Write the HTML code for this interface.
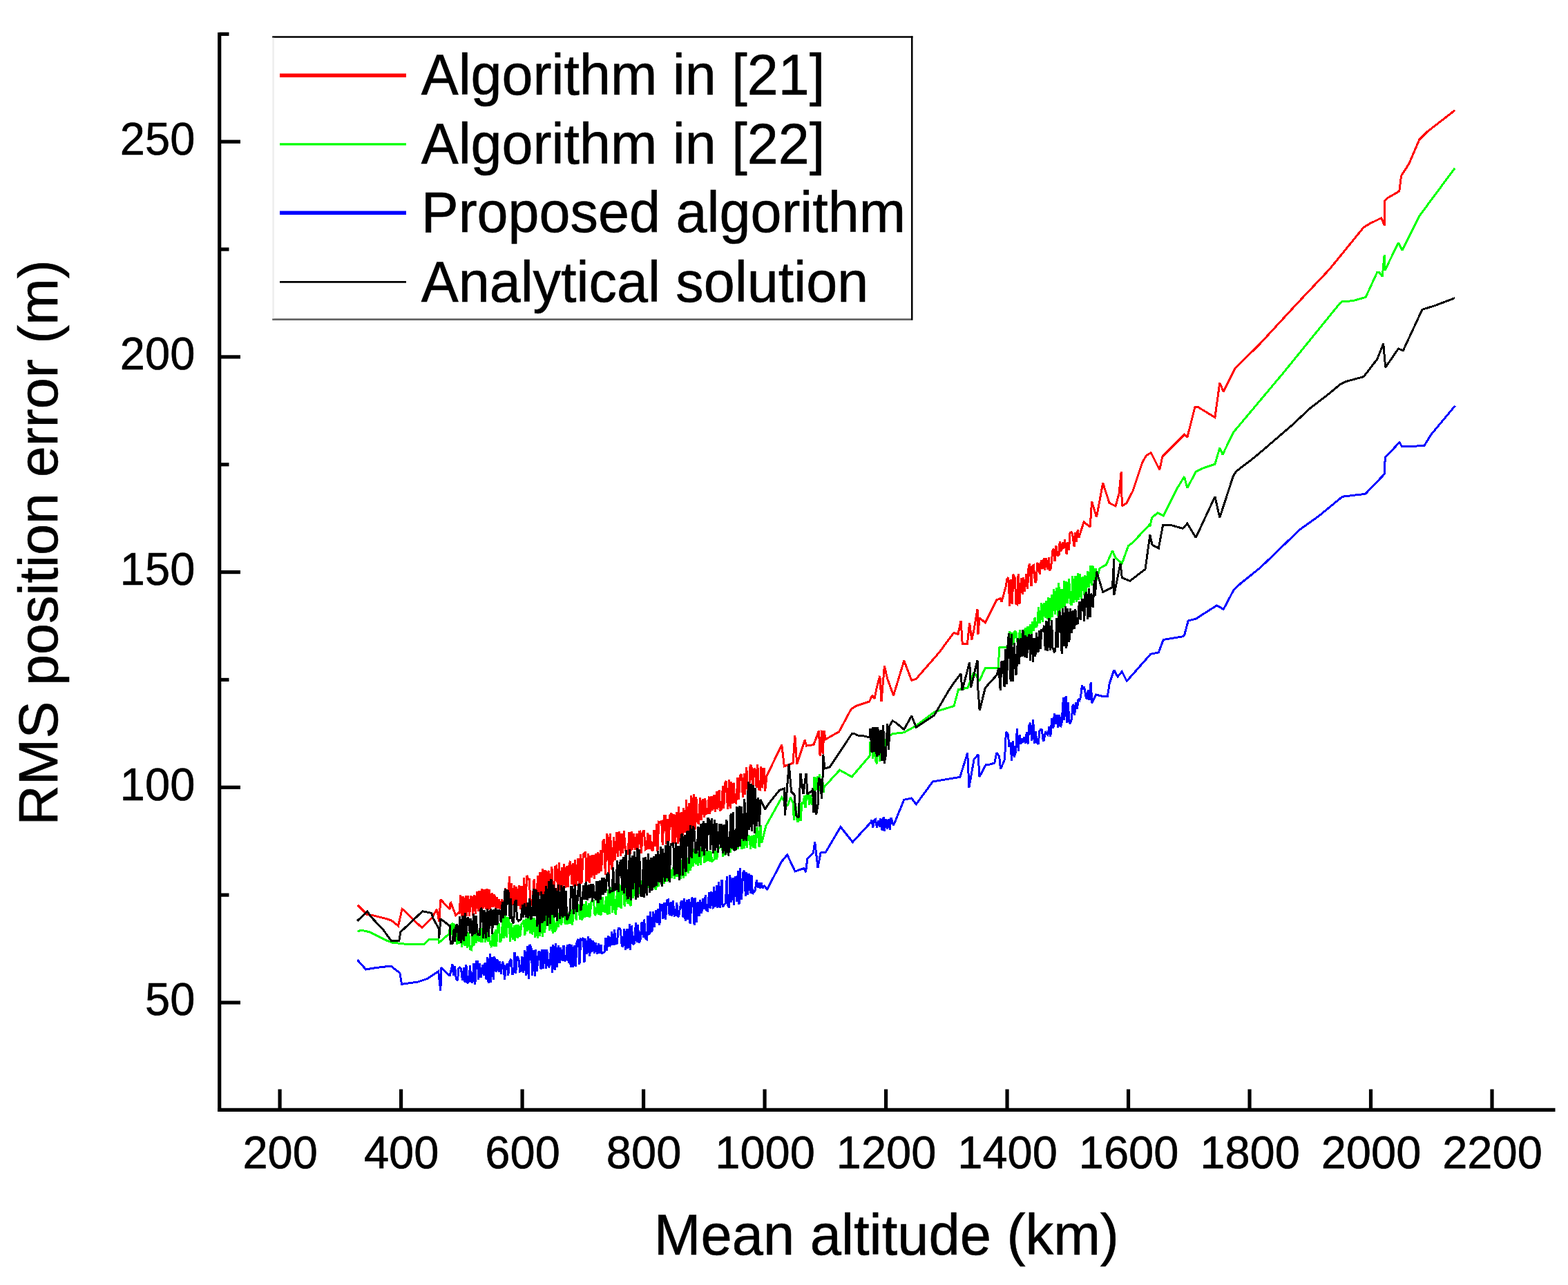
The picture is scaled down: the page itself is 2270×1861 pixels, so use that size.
<!DOCTYPE html>
<html><head><meta charset="utf-8"><title>RMS position error vs Mean altitude</title>
<style>html,body{margin:0;padding:0;background:#fff;}body{width:2270px;height:1861px;overflow:hidden;}svg{display:block;}</style>
</head><body>
<svg xmlns="http://www.w3.org/2000/svg" width="2270" height="1861" viewBox="0 0 2270 1861"><rect width="2270" height="1861" fill="#fff"/><style>text{fill:#000;stroke:#000;stroke-width:0.6px;}</style><g shape-rendering="crispEdges"><polyline points="517.5,1310.6 531.7,1324.6 537.2,1325.1 550.4,1328.4 559.1,1330.6 566.8,1333.1 576.6,1341.0 582.1,1316.4 587.6,1320.8 598.5,1332.2 611.1,1343.7 624.8,1330.1 632.5,1316.9 635.7,1334.4 637.9,1302.7 651.1,1316.9 652.2,1306.0 659.8,1325.7 664.2,1321.3 665.0,1323.4 666.8,1295.7 668.6,1326.7 670.0,1297.9 672.1,1329.3 674.2,1297.1 675.7,1326.5 677.4,1297.2 679.7,1327.1 681.2,1298.8 683.3,1299.0 684.6,1325.9 686.6,1296.6 688.4,1323.5 690.4,1290.8 692.3,1320.3 694.0,1289.9 695.6,1324.9 697.9,1287.0 699.6,1316.0 701.0,1288.0 703.3,1317.1 705.0,1286.9 706.1,1318.2 708.3,1288.5 709.7,1317.1 712.1,1293.6 713.9,1313.8 715.9,1295.6 717.7,1315.2 719.2,1299.1 721.1,1316.3 722.6,1301.8 724.7,1316.7 726.8,1302.4 728.6,1314.2 729.6,1313.6 731.7,1286.0 733.9,1308.2 735.2,1308.5 737.6,1268.9 738.9,1306.0 740.5,1279.2 742.9,1310.9 744.7,1282.1 746.2,1310.7 747.8,1284.2 750.3,1312.1 751.9,1281.9 753.6,1317.4 755.0,1283.3 757.0,1316.9 758.6,1271.3 760.7,1315.1 762.7,1267.9 764.7,1273.4 766.4,1273.7 767.9,1311.5 769.7,1308.5 771.3,1301.0 773.1,1273.6 775.1,1303.0 777.3,1299.1 778.4,1268.2 780.4,1296.8 782.0,1262.8 784.4,1303.6 785.9,1257.6 788.0,1296.6 790.0,1260.5 791.6,1296.0 792.9,1265.1 794.8,1261.1 797.0,1298.4 798.9,1255.3 800.9,1297.6 802.6,1289.7 803.7,1255.2 805.8,1254.0 807.7,1291.7 809.4,1249.0 810.9,1290.4 813.4,1256.3 814.8,1287.3 816.4,1250.8 818.9,1285.7 820.1,1254.1 822.0,1285.0 824.1,1251.4 825.7,1246.9 827.9,1280.6 829.8,1250.2 830.9,1283.8 832.6,1244.7 834.4,1282.5 836.5,1242.8 838.3,1282.5 840.3,1236.6 841.9,1279.5 844.3,1237.7 846.0,1235.7 847.8,1233.3 848.9,1277.6 851.5,1235.7 853.1,1279.1 854.8,1238.7 856.9,1271.4 858.0,1238.1 860.5,1272.6 862.1,1236.5 863.8,1267.3 865.3,1234.0 867.0,1264.8 869.3,1231.5 870.5,1262.2 872.9,1219.0 874.6,1215.3 876.3,1266.8 878.6,1207.5 880.3,1212.9 881.5,1267.9 883.6,1207.0 885.7,1259.4 886.8,1252.6 888.7,1211.9 890.4,1246.0 893.0,1204.9 894.5,1241.2 896.3,1204.5 898.5,1240.4 899.7,1207.5 901.7,1235.8 903.2,1202.9 905.5,1231.4 907.0,1234.5 909.0,1237.8 911.0,1204.6 912.8,1236.9 914.3,1204.4 915.8,1230.8 917.5,1206.9 920.0,1231.3 922.0,1207.3 923.5,1229.4 925.4,1204.2 926.9,1204.0 928.4,1235.7 930.3,1205.6 932.3,1202.2 934.4,1230.4 936.1,1229.3 937.8,1205.9 940.0,1230.3 941.3,1209.3 943.0,1229.9 945.3,1232.2 947.0,1202.0 948.8,1226.2 950.8,1192.6 951.9,1233.3 953.8,1190.5 956.2,1191.4 957.7,1188.2 959.2,1223.9 961.3,1181.3 963.2,1181.7 964.7,1222.9 966.9,1186.5 968.3,1218.0 970.0,1180.6 972.2,1177.7 974.0,1222.0 975.5,1179.5 977.3,1222.3 979.2,1175.9 981.5,1222.3 982.6,1168.1 984.9,1219.3 986.4,1175.6 988.0,1209.9 989.8,1169.8 992.0,1206.4 993.5,1158.5 995.5,1204.0 997.2,1163.5 999.0,1208.3 1000.9,1152.0 1002.4,1200.0 1004.4,1149.8 1006.0,1201.7 1007.9,1154.4 1009.6,1190.1 1011.8,1193.4 1013.4,1155.4 1015.5,1188.2 1017.1,1157.5 1019.4,1183.9 1020.8,1156.1 1022.7,1178.6 1024.4,1177.5 1026.4,1153.6 1027.8,1178.8 1030.0,1153.4 1031.8,1174.1 1033.2,1150.8 1035.4,1176.2 1037.3,1146.4 1038.8,1172.4 1041.1,1144.4 1042.3,1174.5 1044.2,1172.3 1046.5,1138.0 1047.6,1171.4 1049.9,1133.9 1051.2,1131.0 1053.5,1171.5 1055.6,1129.1 1057.1,1170.5 1058.7,1132.0 1060.6,1164.1 1062.0,1133.6 1063.9,1161.8 1065.8,1163.0 1068.0,1125.7 1069.4,1157.9 1071.5,1123.6 1073.5,1121.1 1075.4,1154.8 1077.3,1120.5 1078.6,1150.8 1080.8,1111.4 1082.4,1149.7 1084.3,1150.2 1086.1,1108.8 1087.9,1109.0 1089.9,1147.0 1091.0,1114.0 1093.0,1113.6 1095.2,1141.1 1096.8,1107.2 1098.3,1143.1 1100.4,1143.7 1101.9,1110.3 1103.6,1141.4 1106.0,1112.0 1107.6,1145.8 1110.0,1123.6 1131.8,1078.7 1135.3,1109.8 1148.0,1105.2 1150.8,1065.0 1153.7,1106.4 1165.2,1071.8 1167.5,1080.0 1177.9,1078.7 1185.5,1058.3 1187.1,1095.1 1189.7,1057.6 1191.1,1092.2 1193.0,1058.0 1195.2,1070.7 1214.7,1059.7 1232.2,1027.0 1238.8,1022.5 1258.5,1016.0 1262.8,1007.2 1266.0,1012.0 1269.4,995.5 1273.8,978.8 1276.0,1016.0 1280.4,964.6 1284.7,983.0 1293.5,1007.2 1308.8,956.9 1319.7,985.3 1326.3,983.2 1360.0,944.5 1380.7,916.5 1387.0,918.5 1391.1,898.8 1393.2,932.0 1400.5,932.0 1403.6,902.0 1406.7,926.8 1410.0,912.0 1415.0,882.2 1416.0,918.5 1418.0,894.7 1426.4,902.0 1443.0,868.8 1448.2,866.7 1450.0,872.0 1456.0,850.0 1458.0,838.5 1459.8,836.3 1461.9,877.5 1463.1,838.8 1465.4,875.1 1466.9,831.7 1469.3,836.5 1470.9,874.3 1472.5,875.3 1474.1,831.2 1476.0,874.6 1478.5,836.9 1480.3,861.2 1481.4,836.3 1483.4,857.1 1485.8,830.8 1487.6,853.2 1489.1,821.1 1490.8,816.7 1493.0,849.1 1494.6,819.6 1496.4,818.4 1498.5,843.8 1499.9,842.1 1501.9,816.2 1503.2,816.8 1505.3,831.7 1507.3,811.5 1509.4,824.3 1511.2,808.4 1512.6,825.5 1514.2,808.3 1516.4,824.5 1518.5,806.8 1519.6,826.5 1521.6,822.0 1523.8,797.3 1525.2,794.9 1527.0,812.8 1528.9,790.6 1531.0,805.1 1533.1,803.2 1534.2,784.0 1536.8,798.3 1538.2,784.9 1539.9,794.9 1541.5,781.5 1544.1,803.1 1545.3,785.4 1547.5,796.4 1549.0,771.7 1550.9,770.7 1552.6,773.4 1555.1,791.8 1556.6,770.7 1558.0,785.1 1560.2,767.2 1562.0,778.4 1569.0,756.0 1578.2,763.0 1580.6,726.0 1587.5,749.0 1596.7,699.6 1606.0,728.4 1615.0,733.0 1620.0,715.0 1623.2,683.5 1624.3,733.0 1631.0,728.4 1640.0,711.0 1653.8,669.5 1659.4,659.8 1666.3,655.6 1678.7,680.5 1682.9,661.2 1714.6,629.4 1718.8,633.5 1729.9,589.3 1734.0,589.3 1758.9,604.5 1765.8,554.7 1771.3,567.2 1787.0,535.2 1790.0,531.4 1822.9,499.2 1875.3,442.3 1924.8,389.9 1974.2,329.2 1983.0,323.9 1999.7,315.7 2004.5,326.6 2005.0,290.7 2009.2,286.5 2025.8,276.9 2028.6,254.7 2040.0,236.8 2054.8,202.2 2065.9,191.1 2071.1,187.0 2106.3,159.7" fill="none" stroke="#ff0000" stroke-width="3" stroke-linejoin="miter" stroke-miterlimit="2"/></g><g shape-rendering="crispEdges"><polyline points="517.5,1349.2 523.0,1347.0 535.0,1349.8 546.0,1355.2 559.1,1361.8 567.9,1365.1 592.0,1367.8 613.8,1367.8 621.5,1360.2 634.6,1360.2 635.7,1365.1 650.0,1352.5 652.0,1339.7 654.2,1338.3 655.6,1364.5 657.0,1338.9 658.9,1340.0 661.4,1368.1 663.1,1343.3 664.5,1366.7 666.6,1339.8 668.4,1372.2 669.8,1344.9 671.5,1366.9 673.4,1369.7 675.5,1346.5 676.9,1372.7 678.7,1350.3 680.4,1374.8 682.8,1375.8 684.6,1345.8 685.9,1370.2 688.2,1350.4 689.7,1365.7 691.6,1347.6 693.5,1362.4 695.5,1363.1 697.2,1344.4 698.4,1365.1 700.4,1345.7 702.6,1364.7 704.2,1348.7 706.4,1364.3 707.5,1351.9 709.8,1367.6 711.9,1372.0 713.2,1351.3 715.4,1371.2 717.2,1346.4 718.6,1371.0 720.6,1338.1 722.1,1338.5 723.9,1364.4 725.9,1361.6 727.9,1327.1 729.5,1359.1 731.3,1325.3 733.1,1357.9 735.0,1328.4 736.8,1331.0 738.6,1363.5 740.5,1337.2 742.4,1361.1 744.3,1340.4 745.6,1362.7 747.4,1339.6 749.6,1359.3 750.8,1339.1 752.8,1357.3 755.1,1337.8 756.8,1336.9 758.2,1332.3 759.9,1354.5 762.0,1329.8 763.5,1349.3 765.7,1325.9 767.3,1351.6 769.1,1329.1 770.7,1353.4 773.0,1329.2 774.7,1357.7 776.3,1332.5 778.2,1358.6 780.0,1328.3 781.5,1355.8 783.2,1329.2 785.4,1356.4 787.6,1326.5 788.6,1351.2 790.5,1326.8 792.6,1324.9 794.2,1323.2 795.8,1348.3 798.4,1321.1 800.2,1351.6 801.2,1318.4 803.0,1349.6 805.4,1345.0 807.0,1322.2 808.7,1342.7 810.2,1320.6 812.7,1339.7 814.6,1322.7 816.3,1322.8 818.2,1338.7 819.2,1321.3 821.0,1338.6 823.0,1322.0 825.0,1338.3 827.2,1317.0 828.6,1340.4 830.5,1315.6 832.2,1313.1 834.2,1332.9 835.5,1312.9 837.8,1309.9 839.5,1332.0 841.2,1308.5 842.8,1332.7 845.1,1309.2 846.5,1329.2 848.5,1304.8 850.0,1328.3 852.4,1308.3 853.9,1328.5 856.1,1305.5 857.5,1305.9 859.4,1304.9 861.2,1325.8 863.3,1322.6 864.8,1304.3 866.4,1324.6 868.0,1301.6 870.0,1325.7 872.2,1299.4 873.8,1320.0 875.8,1320.6 877.5,1298.2 879.1,1324.7 880.8,1288.0 882.4,1323.7 884.1,1285.4 886.7,1321.6 887.7,1281.6 890.1,1319.7 891.7,1324.8 893.9,1279.6 895.1,1314.3 896.9,1280.0 899.1,1316.1 900.7,1280.1 902.8,1279.3 904.1,1313.1 905.9,1277.8 908.3,1309.1 909.4,1275.3 911.4,1308.6 913.5,1311.9 915.3,1275.2 916.7,1301.4 918.4,1274.7 920.3,1301.9 921.9,1298.0 924.2,1278.0 926.4,1294.9 928.1,1275.5 929.2,1294.5 931.0,1271.5 933.4,1293.2 935.3,1264.2 936.4,1297.0 938.3,1263.9 940.6,1288.7 942.3,1264.7 944.1,1285.6 946.2,1267.1 947.2,1284.9 949.8,1288.2 951.3,1261.3 953.2,1284.4 954.4,1259.8 956.8,1259.5 958.1,1281.5 960.4,1261.0 961.6,1279.7 963.5,1256.9 965.5,1277.2 967.2,1257.9 969.3,1276.1 971.1,1259.1 972.7,1271.6 974.6,1255.8 976.7,1273.2 978.4,1256.1 980.4,1269.8 982.0,1253.0 983.9,1270.8 985.5,1271.1 987.5,1245.5 989.2,1272.2 990.9,1241.9 992.4,1268.8 994.1,1241.9 996.2,1264.5 997.8,1237.1 999.6,1261.2 1002.1,1235.8 1003.2,1254.9 1005.2,1228.7 1007.2,1252.2 1008.4,1227.0 1010.5,1253.4 1012.3,1229.7 1014.3,1253.2 1016.0,1226.6 1018.1,1231.2 1020.0,1249.6 1021.5,1231.0 1022.9,1247.4 1025.4,1232.1 1027.2,1248.1 1028.8,1232.5 1030.8,1247.3 1032.2,1246.7 1034.1,1244.0 1035.5,1230.8 1037.7,1244.7 1039.3,1229.7 1041.4,1228.3 1042.9,1226.8 1045.2,1222.9 1046.8,1240.9 1048.3,1223.8 1049.9,1238.4 1052.5,1219.5 1053.7,1235.9 1056.1,1218.4 1057.3,1235.3 1059.8,1214.7 1061.5,1231.2 1062.9,1215.9 1064.9,1228.3 1066.4,1214.1 1068.6,1229.9 1070.6,1211.9 1071.8,1208.4 1074.0,1229.8 1075.9,1210.2 1077.0,1229.2 1079.4,1208.4 1081.3,1228.3 1082.6,1209.7 1085.0,1212.0 1086.5,1230.2 1088.1,1209.7 1090.3,1228.3 1091.4,1209.0 1093.4,1229.1 1095.6,1199.1 1096.7,1199.0 1099.1,1226.9 1101.1,1195.5 1102.6,1221.2 1108.8,1196.2 1131.8,1154.7 1139.9,1167.4 1144.5,1154.7 1148.0,1163.1 1149.4,1188.1 1151.7,1165.4 1153.9,1187.2 1155.0,1190.9 1157.5,1163.4 1159.0,1189.1 1161.1,1160.9 1162.5,1165.1 1164.7,1152.0 1166.0,1169.9 1168.1,1150.3 1170.3,1150.3 1171.7,1165.9 1173.5,1150.9 1175.2,1165.4 1177.6,1154.6 1179.0,1124.7 1180.9,1145.3 1183.2,1124.2 1184.8,1149.4 1186.5,1121.4 1188.5,1149.2 1190.4,1124.0 1192.0,1147.7 1192.7,1140.3 1215.6,1115.2 1233.2,1125.0 1259.4,1094.4 1260.0,1074.1 1262.0,1077.1 1263.7,1098.4 1265.6,1072.8 1267.4,1101.9 1269.6,1106.3 1271.1,1068.2 1273.6,1103.2 1275.0,1066.6 1277.0,1102.4 1278.9,1070.8 1280.9,1102.1 1283.2,1067.8 1285.0,1067.9 1292.2,1062.7 1308.8,1060.8 1326.3,1051.0 1352.6,1031.3 1381.0,1022.5 1387.6,998.5 1400.7,996.3 1409.8,973.5 1418.0,986.0 1426.4,967.3 1445.0,967.3 1447.0,937.2 1459.6,937.2 1462.0,914.6 1463.6,931.5 1466.0,916.3 1467.1,934.3 1469.1,913.5 1470.8,915.0 1472.9,930.2 1475.0,928.0 1476.4,912.1 1478.5,927.6 1480.6,913.4 1481.9,925.4 1484.2,909.6 1485.5,925.3 1487.6,906.9 1488.9,925.6 1491.3,904.4 1493.3,920.1 1494.8,899.7 1496.8,913.6 1498.1,893.9 1500.2,909.0 1502.0,903.3 1503.4,879.6 1505.6,903.3 1507.8,873.2 1509.4,901.3 1511.1,873.3 1513.2,895.3 1514.9,869.7 1516.2,896.7 1518.0,865.5 1520.1,899.2 1522.3,861.4 1523.5,893.7 1525.9,853.0 1527.4,890.2 1529.5,850.6 1531.4,891.8 1532.8,844.4 1534.5,890.5 1536.2,852.6 1538.4,887.0 1540.6,841.5 1541.7,879.2 1544.0,842.3 1545.6,873.8 1547.7,837.7 1549.3,873.9 1551.3,876.7 1552.8,834.1 1554.8,872.8 1556.8,834.5 1558.3,872.3 1560.2,830.5 1561.8,869.2 1563.8,830.6 1565.4,867.7 1567.1,835.4 1569.6,861.7 1570.8,832.7 1572.6,858.2 1574.4,827.5 1576.6,851.3 1578.6,819.0 1580.7,847.8 1582.0,819.5 1584.0,840.1 1586.0,823.4 1587.5,840.7 1592.0,823.0 1601.3,818.2 1610.5,797.5 1615.0,808.0 1624.3,816.0 1633.5,790.6 1640.0,785.6 1663.5,760.6 1664.9,762.1 1667.6,749.7 1676.0,742.7 1684.2,746.9 1703.6,708.2 1714.6,690.2 1718.8,706.8 1731.2,683.3 1742.3,677.8 1758.9,672.2 1765.8,648.7 1770.0,658.4 1785.5,626.2 1857.9,540.0 1939.7,439.3 1942.7,437.0 1959.2,435.6 1977.2,430.3 1993.7,394.4 1996.7,394.4 2001.2,400.4 2004.2,368.9 2005.0,391.6 2024.4,351.5 2030.0,362.6 2054.8,312.8 2106.0,243.7" fill="none" stroke="#00ff00" stroke-width="3" stroke-linejoin="miter" stroke-miterlimit="2"/></g><g shape-rendering="crispEdges"><polyline points="517.5,1390.3 529.6,1404.0 542.7,1401.8 565.7,1399.0 578.8,1408.9 581.6,1425.3 605.1,1422.0 618.2,1417.6 634.6,1406.7 637.9,1435.1 638.5,1401.2 651.1,1413.3 655.0,1396.7 656.5,1413.2 658.6,1399.3 660.2,1417.2 662.5,1420.2 663.9,1402.8 665.9,1401.1 667.4,1402.8 669.5,1420.0 671.5,1401.1 673.1,1422.7 674.9,1397.0 676.8,1424.0 678.9,1421.9 680.5,1397.9 681.9,1421.1 683.9,1423.5 686.0,1394.7 687.8,1426.3 689.5,1392.7 691.4,1392.6 692.8,1418.8 694.3,1395.5 696.2,1415.6 698.5,1396.8 700.2,1413.0 702.1,1394.1 704.1,1418.5 705.4,1386.3 707.1,1423.9 709.4,1380.9 710.6,1422.8 712.6,1386.4 714.2,1418.9 715.9,1385.5 718.1,1407.9 719.9,1389.5 722.2,1407.8 723.5,1392.0 725.2,1410.4 727.4,1392.9 728.9,1395.6 730.5,1418.4 732.7,1399.3 734.5,1395.5 735.7,1413.3 737.7,1393.5 739.9,1388.8 742.0,1412.0 743.8,1406.7 745.0,1378.9 746.6,1410.3 748.5,1385.3 750.8,1388.0 752.6,1407.1 754.3,1406.2 755.9,1385.0 757.8,1408.8 759.8,1376.2 761.3,1412.7 763.4,1370.3 765.3,1417.9 766.6,1367.9 769.0,1372.5 770.8,1412.9 772.1,1375.9 774.5,1413.5 775.5,1375.4 777.4,1407.3 779.6,1378.9 781.0,1377.9 783.1,1404.3 785.0,1375.1 786.4,1402.5 788.8,1375.2 790.7,1403.2 791.7,1375.1 794.2,1400.9 795.9,1398.9 797.6,1371.0 799.6,1409.3 800.9,1367.8 803.1,1404.9 804.7,1366.1 806.7,1400.5 808.4,1369.0 810.6,1394.5 811.6,1372.2 814.1,1392.2 816.0,1369.1 817.4,1392.1 819.5,1390.0 821.2,1368.3 823.2,1394.5 824.3,1367.4 826.2,1400.5 827.8,1368.2 829.9,1401.0 832.0,1369.0 833.4,1400.1 835.1,1363.3 837.6,1360.1 838.9,1397.1 840.8,1360.3 842.5,1361.4 844.4,1358.1 846.0,1393.6 847.6,1359.1 849.9,1381.4 851.4,1355.9 853.9,1384.7 854.8,1359.3 857.0,1378.4 858.9,1362.1 860.4,1381.3 862.2,1364.7 864.4,1382.3 866.3,1366.3 868.1,1381.2 870.0,1368.4 871.2,1381.3 873.6,1379.4 875.2,1378.2 877.0,1358.4 878.4,1377.1 880.9,1355.2 882.2,1370.8 884.1,1368.4 885.7,1349.3 888.0,1369.0 889.6,1346.3 891.4,1366.7 893.3,1366.0 895.1,1344.7 897.1,1344.7 898.3,1347.0 900.2,1369.0 901.9,1371.3 903.8,1345.0 905.4,1375.8 907.2,1345.1 909.0,1373.6 911.5,1338.4 912.5,1376.2 914.4,1340.6 916.4,1367.8 918.1,1366.6 920.6,1336.3 922.1,1364.5 923.4,1338.8 925.3,1365.5 927.0,1361.6 929.1,1335.6 931.5,1358.1 932.5,1331.6 935.0,1359.9 936.8,1360.7 938.0,1326.2 940.0,1353.7 941.4,1320.4 943.9,1350.4 945.5,1320.1 947.5,1342.6 949.4,1318.1 951.3,1337.1 952.4,1316.1 954.9,1340.2 955.9,1310.0 958.3,1310.5 959.9,1331.2 961.7,1307.1 963.6,1331.7 965.2,1304.2 967.2,1303.0 969.2,1326.2 971.1,1306.4 972.5,1327.2 974.4,1304.1 976.1,1326.3 978.3,1325.6 979.7,1306.7 981.5,1328.1 982.9,1325.6 985.6,1307.8 987.0,1304.1 989.1,1329.3 990.4,1301.1 992.2,1334.4 994.2,1303.0 995.8,1332.2 997.4,1302.5 999.1,1338.2 1001.4,1299.9 1003.5,1301.7 1005.1,1339.9 1006.7,1300.2 1008.4,1335.5 1010.5,1305.8 1012.1,1327.0 1013.7,1302.7 1015.8,1322.4 1017.7,1301.1 1019.8,1317.3 1021.2,1296.1 1022.6,1318.2 1024.7,1319.3 1026.5,1292.0 1028.8,1316.2 1029.9,1290.7 1032.4,1316.4 1033.5,1284.1 1036.0,1313.4 1037.9,1282.0 1039.0,1314.9 1040.7,1277.4 1042.7,1314.7 1045.0,1273.7 1046.1,1313.8 1048.0,1311.0 1050.4,1307.5 1052.3,1269.2 1053.4,1309.7 1055.4,1314.7 1056.9,1267.4 1058.8,1306.6 1061.1,1271.2 1062.5,1311.0 1064.3,1268.8 1066.5,1305.8 1068.3,1261.2 1070.0,1309.6 1071.3,1257.0 1073.5,1303.4 1075.7,1263.8 1077.4,1260.9 1079.4,1298.3 1080.9,1262.6 1082.6,1295.9 1084.7,1265.4 1086.5,1294.2 1088.0,1267.5 1089.4,1294.6 1091.4,1292.3 1093.4,1289.0 1095.4,1274.4 1097.1,1285.9 1098.8,1278.6 1100.8,1287.1 1102.0,1278.0 1104.4,1286.8 1106.0,1282.2 1110.6,1288.0 1131.6,1247.7 1139.7,1238.0 1151.0,1262.0 1164.0,1257.4 1166.6,1263.2 1168.8,1243.5 1177.5,1234.8 1179.7,1219.5 1184.0,1256.7 1188.0,1235.0 1195.0,1234.8 1216.9,1197.6 1234.4,1219.5 1260.7,1191.0 1262.0,1187.7 1263.7,1198.7 1265.9,1187.4 1267.5,1186.6 1269.5,1198.4 1271.6,1187.9 1273.3,1197.7 1274.8,1184.9 1277.2,1203.3 1279.1,1183.1 1280.3,1203.4 1282.9,1186.2 1284.8,1201.3 1286.5,1185.7 1288.3,1201.4 1290.0,1184.5 1293.5,1195.4 1308.8,1158.2 1319.7,1156.0 1326.3,1164.8 1350.4,1132.0 1389.8,1125.4 1400.7,1090.4 1402.9,1140.7 1410.0,1100.0 1416.0,1092.6 1418.0,1125.0 1427.0,1107.9 1430.0,1107.9 1439.8,1105.0 1442.7,1090.3 1446.6,1095.2 1448.6,1113.8 1454.5,1100.0 1456.4,1060.0 1459.4,1063.7 1461.0,1082.0 1463.1,1075.2 1464.5,1102.1 1466.5,1073.1 1468.2,1096.8 1470.5,1089.4 1472.4,1055.4 1474.3,1087.7 1476.1,1064.1 1477.9,1077.4 1479.7,1069.5 1480.9,1075.5 1482.8,1067.1 1484.5,1076.9 1486.4,1059.7 1488.2,1077.4 1490.0,1050.1 1491.8,1047.0 1493.6,1072.7 1495.7,1042.4 1497.3,1076.8 1499.5,1059.5 1500.8,1075.6 1503.3,1077.5 1504.8,1058.9 1506.1,1056.8 1508.1,1056.4 1510.5,1074.0 1511.6,1070.4 1513.6,1059.0 1515.3,1063.0 1517.0,1064.3 1518.9,1051.9 1520.8,1066.7 1522.7,1039.8 1524.9,1054.7 1526.4,1033.1 1528.6,1048.4 1530.1,1034.8 1531.8,1054.0 1533.7,1034.9 1535.5,1053.2 1537.0,1046.9 1539.5,1010.0 1540.7,1043.1 1543.1,1008.1 1545.0,1046.8 1546.0,1017.2 1548.4,1048.0 1550.2,1045.4 1551.4,1040.9 1553.2,1019.7 1555.6,1035.7 1557.4,1017.2 1559.5,1026.7 1561.1,1012.0 1562.9,1013.9 1564.5,1009.5 1566.4,992.5 1568.1,998.1 1569.6,994.5 1572.1,1009.6 1573.3,1012.7 1575.3,999.1 1577.0,1013.7 1579.2,988.1 1580.8,1018.2 1586.7,1006.0 1594.5,1008.0 1603.4,1008.0 1606.3,989.4 1612.8,970.3 1618.0,980.0 1624.3,972.6 1631.2,986.5 1665.8,947.3 1677.3,945.0 1684.2,926.5 1711.9,921.9 1714.6,920.0 1720.2,898.9 1731.2,896.2 1761.6,876.8 1771.3,882.4 1785.5,855.4 1795.3,845.6 1824.6,822.1 1881.5,767.2 1908.9,747.6 1942.2,720.2 1945.3,719.0 1975.3,715.5 1977.6,714.4 2004.1,686.7 2005.3,662.5 2007.6,660.2 2026.0,640.6 2029.4,646.4 2061.7,645.8 2072.0,629.1 2106.6,587.6" fill="none" stroke="#0000ff" stroke-width="3" stroke-linejoin="miter" stroke-miterlimit="2"/></g><g shape-rendering="crispEdges"><polyline points="517.5,1333.6 531.7,1319.7 537.2,1327.9 554.7,1346.5 566.8,1362.9 577.7,1362.9 579.9,1349.8 611.7,1319.7 624.8,1322.4 627.0,1330.1 635.7,1345.4 635.7,1358.5 637.9,1330.6 651.1,1341.0 652.2,1366.2 655.0,1366.6 657.2,1344.8 658.5,1364.1 660.1,1340.8 661.9,1338.3 664.1,1363.1 665.5,1327.2 667.8,1366.1 669.2,1325.6 671.1,1362.7 673.2,1322.3 674.6,1356.3 677.1,1328.6 678.1,1330.5 680.4,1352.2 681.8,1330.4 683.9,1356.3 685.9,1323.5 687.1,1353.1 689.1,1326.2 691.2,1353.2 693.1,1352.6 694.6,1355.2 696.1,1315.0 698.5,1319.1 699.7,1359.0 701.9,1318.3 703.7,1358.8 705.2,1316.5 707.6,1356.7 709.0,1319.0 711.0,1317.8 712.5,1352.7 714.7,1317.6 716.3,1339.6 717.8,1314.7 719.9,1339.9 721.5,1317.8 723.7,1319.6 725.2,1335.9 727.3,1305.7 728.8,1329.7 731.2,1286.9 732.3,1325.7 734.0,1289.9 735.9,1290.5 738.2,1330.5 739.5,1301.2 741.4,1333.2 743.6,1337.2 745.1,1307.1 747.1,1303.3 748.5,1330.8 750.6,1333.7 752.8,1332.2 754.0,1332.0 756.6,1309.8 757.7,1328.9 759.4,1307.8 761.7,1329.2 763.5,1307.0 764.8,1329.9 766.8,1300.8 768.8,1331.8 770.2,1326.4 772.6,1286.9 774.0,1327.2 776.0,1288.5 777.9,1341.6 779.7,1291.6 781.5,1349.8 783.4,1291.4 785.0,1336.6 786.6,1294.7 788.4,1334.3 790.3,1283.0 792.6,1340.6 794.3,1275.6 796.3,1337.6 798.0,1273.1 799.5,1324.8 801.7,1280.6 803.0,1328.6 804.5,1285.6 806.3,1333.6 808.4,1280.6 810.7,1331.1 812.3,1281.9 814.1,1328.9 816.1,1283.4 817.4,1327.1 819.1,1290.2 820.8,1332.4 823.2,1326.2 824.9,1321.9 826.9,1284.5 828.7,1284.7 830.3,1323.5 832.3,1281.4 834.1,1319.4 835.1,1319.6 837.5,1281.5 839.2,1280.2 840.9,1318.8 842.5,1308.8 844.8,1282.1 846.6,1302.8 848.1,1277.4 850.1,1304.3 852.1,1280.7 854.0,1300.4 855.4,1280.3 857.6,1305.8 858.8,1280.3 861.0,1300.6 863.1,1303.5 864.0,1275.6 866.0,1308.1 868.1,1274.6 869.5,1303.3 871.8,1270.7 873.1,1295.8 874.8,1270.9 876.8,1292.6 878.8,1267.1 880.9,1263.9 882.6,1293.8 884.0,1290.5 886.3,1290.6 887.7,1256.3 889.6,1289.0 891.7,1288.2 893.6,1246.2 895.1,1291.7 896.6,1254.1 898.7,1245.6 900.9,1290.0 902.1,1240.8 903.7,1293.7 906.3,1230.9 908.1,1301.0 910.0,1300.4 911.3,1230.1 913.3,1303.9 915.1,1238.6 916.4,1287.8 918.7,1232.6 920.7,1302.5 922.3,1228.5 923.6,1299.8 925.5,1229.9 927.5,1297.2 929.9,1297.8 931.5,1242.5 932.8,1300.2 934.9,1241.3 936.6,1296.7 938.4,1235.6 940.5,1293.1 942.1,1242.2 944.0,1289.8 946.1,1239.9 947.9,1284.9 949.4,1236.6 950.8,1282.8 952.8,1232.5 954.9,1278.4 956.5,1226.5 958.1,1283.7 959.7,1228.8 962.3,1276.6 963.3,1224.3 965.8,1272.1 967.0,1218.0 969.1,1278.3 971.1,1222.7 972.8,1222.4 974.8,1221.6 976.3,1267.7 978.5,1220.3 980.0,1266.0 982.0,1224.8 983.8,1274.5 985.9,1215.3 987.2,1207.1 988.6,1267.9 991.1,1208.6 993.0,1262.7 994.6,1204.9 996.5,1204.5 997.6,1251.0 999.8,1194.7 1001.6,1243.1 1003.6,1196.5 1005.1,1203.8 1007.0,1235.6 1008.9,1234.3 1011.0,1197.1 1012.4,1241.1 1014.3,1193.4 1016.5,1233.0 1018.1,1189.3 1019.6,1238.7 1021.4,1192.5 1023.2,1232.9 1024.9,1184.1 1027.4,1189.1 1028.7,1230.7 1030.7,1185.5 1032.7,1236.0 1034.5,1187.0 1035.7,1232.3 1037.5,1192.1 1039.3,1234.8 1041.8,1193.0 1043.2,1228.1 1044.9,1192.9 1046.9,1235.5 1048.7,1193.6 1050.6,1238.0 1051.9,1186.8 1054.2,1239.3 1055.9,1230.9 1058.1,1177.7 1059.1,1228.5 1061.3,1176.2 1062.8,1231.6 1065.1,1230.1 1067.0,1168.4 1068.3,1226.8 1070.5,1166.6 1071.7,1225.7 1073.5,1168.3 1076.2,1218.4 1077.9,1157.0 1079.2,1214.1 1080.8,1217.3 1083.4,1132.5 1084.9,1201.5 1087.0,1134.7 1088.7,1204.1 1090.3,1136.8 1092.4,1207.0 1093.4,1141.0 1095.6,1196.7 1097.4,1155.4 1099.3,1196.5 1101.0,1157.9 1107.6,1172.0 1114.5,1161.7 1128.4,1144.4 1135.3,1142.0 1136.4,1181.2 1142.2,1106.4 1145.6,1146.7 1150.0,1151.0 1152.6,1181.2 1156.0,1184.0 1159.0,1120.0 1163.0,1150.0 1167.0,1120.0 1169.0,1150.0 1176.0,1145.0 1176.5,1141.6 1178.0,1177.2 1179.9,1145.5 1181.8,1179.5 1184.0,1166.2 1185.2,1126.7 1187.2,1128.6 1189.6,1156.8 1191.0,1127.3 1191.7,1092.6 1194.0,1113.0 1201.4,1110.8 1233.2,1062.7 1237.5,1062.7 1240.8,1064.9 1250.7,1066.0 1259.4,1068.1 1260.0,1054.6 1262.1,1090.0 1264.0,1053.0 1265.7,1089.3 1267.3,1053.3 1269.2,1096.3 1270.9,1053.1 1272.8,1093.8 1275.1,1057.0 1276.4,1101.5 1278.8,1050.5 1280.1,1105.7 1282.3,1094.4 1284.7,1048.1 1286.5,1085.8 1288.0,1050.8 1292.2,1044.0 1296.6,1046.3 1308.8,1056.5 1319.7,1036.8 1326.3,1053.2 1352.6,1035.7 1373.5,1000.0 1378.8,991.9 1391.0,975.6 1393.0,1000.0 1403.6,959.0 1405.6,996.0 1415.0,955.9 1416.0,1000.0 1418.2,1029.1 1426.4,996.0 1443.0,977.7 1446.0,967.3 1448.2,1000.0 1450.0,958.0 1452.0,958.0 1454.1,995.0 1455.4,939.7 1457.5,990.7 1459.2,927.5 1460.8,917.5 1463.1,986.9 1464.5,917.9 1466.4,987.1 1468.3,930.8 1470.4,977.9 1471.7,974.8 1473.4,923.8 1475.6,962.2 1477.1,924.2 1479.5,951.1 1480.9,912.0 1483.1,951.7 1484.9,920.1 1486.6,952.8 1488.3,923.9 1490.2,918.7 1491.6,957.4 1493.3,917.7 1495.6,958.6 1497.0,924.4 1498.9,950.6 1500.5,915.9 1503.0,944.5 1504.7,913.2 1506.1,940.1 1507.9,911.5 1510.1,914.6 1511.5,905.7 1513.3,942.0 1515.0,899.4 1516.8,943.4 1518.5,895.1 1520.6,941.5 1522.5,898.1 1524.0,938.6 1526.4,944.3 1527.8,942.9 1529.9,895.1 1531.1,937.9 1533.3,884.9 1534.9,887.7 1537.2,947.3 1538.8,881.5 1540.7,936.4 1542.4,878.5 1543.9,939.1 1545.8,881.1 1547.9,930.2 1549.8,881.0 1551.8,917.0 1553.2,884.3 1555.2,911.4 1556.9,882.6 1558.6,903.6 1560.5,902.7 1562.3,871.6 1564.1,898.3 1566.2,868.7 1568.1,868.9 1569.8,899.5 1570.8,861.6 1572.9,857.5 1574.9,897.1 1576.7,851.7 1578.3,894.1 1579.9,859.6 1582.3,879.7 1584.3,839.8 1585.5,863.3 1587.5,827.7 1596.7,857.4 1610.5,850.5 1612.8,809.0 1612.8,862.0 1622.0,816.0 1624.3,836.7 1635.9,841.3 1640.0,838.1 1658.0,824.3 1664.9,774.5 1668.0,789.0 1677.3,794.0 1683.5,760.7 1695.8,760.6 1711.9,765.3 1714.6,763.5 1718.8,758.0 1731.2,778.7 1758.9,719.2 1765.8,749.7 1785.5,688.9 1789.4,683.0 1799.2,675.2 1814.8,663.4 1834.4,646.8 1869.7,616.4 1897.1,590.9 1922.6,571.3 1940.2,556.7 1948.0,552.7 1974.2,545.6 1993.7,520.2 2002.7,497.7 2005.7,532.2 2024.4,505.0 2031.3,507.7 2059.0,448.3 2077.0,442.7 2106.0,431.7" fill="none" stroke="#000000" stroke-width="3" stroke-linejoin="miter" stroke-miterlimit="2"/></g><g stroke="#000" stroke-width="5.2" fill="none"><line x1="317.7" y1="46.9" x2="317.7" y2="1610"/><line x1="315.1" y1="1607.4" x2="2251.5" y2="1607.4"/><line x1="317.7" y1="1452.00" x2="348" y2="1452.00"/><line x1="317.7" y1="1296.15" x2="331.5" y2="1296.15"/><line x1="317.7" y1="1140.30" x2="348" y2="1140.30"/><line x1="317.7" y1="984.45" x2="331.5" y2="984.45"/><line x1="317.7" y1="828.60" x2="348" y2="828.60"/><line x1="317.7" y1="672.75" x2="331.5" y2="672.75"/><line x1="317.7" y1="516.90" x2="348" y2="516.90"/><line x1="317.7" y1="361.05" x2="331.5" y2="361.05"/><line x1="317.7" y1="205.20" x2="348" y2="205.20"/><line x1="317.7" y1="49.35" x2="331.5" y2="49.35"/><line x1="405.10" y1="1577.5" x2="405.10" y2="1607.4"/><line x1="580.59" y1="1577.5" x2="580.59" y2="1607.4"/><line x1="756.08" y1="1577.5" x2="756.08" y2="1607.4"/><line x1="931.57" y1="1577.5" x2="931.57" y2="1607.4"/><line x1="1107.06" y1="1577.5" x2="1107.06" y2="1607.4"/><line x1="1282.55" y1="1577.5" x2="1282.55" y2="1607.4"/><line x1="1458.04" y1="1577.5" x2="1458.04" y2="1607.4"/><line x1="1633.53" y1="1577.5" x2="1633.53" y2="1607.4"/><line x1="1809.02" y1="1577.5" x2="1809.02" y2="1607.4"/><line x1="1984.51" y1="1577.5" x2="1984.51" y2="1607.4"/><line x1="2160.00" y1="1577.5" x2="2160.00" y2="1607.4"/></g><text font-family="'Liberation Sans', Arial, sans-serif" font-size="65" text-anchor="end" transform="translate(282.3,1470.30) scale(1,1.03)">50</text><text font-family="'Liberation Sans', Arial, sans-serif" font-size="65" text-anchor="end" transform="translate(282.3,1158.60) scale(1,1.03)">100</text><text font-family="'Liberation Sans', Arial, sans-serif" font-size="65" text-anchor="end" transform="translate(282.3,846.90) scale(1,1.03)">150</text><text font-family="'Liberation Sans', Arial, sans-serif" font-size="65" text-anchor="end" transform="translate(282.3,535.20) scale(1,1.03)">200</text><text font-family="'Liberation Sans', Arial, sans-serif" font-size="65" text-anchor="end" transform="translate(282.3,223.50) scale(1,1.03)">250</text><text font-family="'Liberation Sans', Arial, sans-serif" font-size="65" text-anchor="middle" transform="translate(405.60,1691.5) scale(1,1.03)">200</text><text font-family="'Liberation Sans', Arial, sans-serif" font-size="65" text-anchor="middle" transform="translate(581.09,1691.5) scale(1,1.03)">400</text><text font-family="'Liberation Sans', Arial, sans-serif" font-size="65" text-anchor="middle" transform="translate(756.58,1691.5) scale(1,1.03)">600</text><text font-family="'Liberation Sans', Arial, sans-serif" font-size="65" text-anchor="middle" transform="translate(932.07,1691.5) scale(1,1.03)">800</text><text font-family="'Liberation Sans', Arial, sans-serif" font-size="65" text-anchor="middle" transform="translate(1107.56,1691.5) scale(1,1.03)">1000</text><text font-family="'Liberation Sans', Arial, sans-serif" font-size="65" text-anchor="middle" transform="translate(1283.05,1691.5) scale(1,1.03)">1200</text><text font-family="'Liberation Sans', Arial, sans-serif" font-size="65" text-anchor="middle" transform="translate(1458.54,1691.5) scale(1,1.03)">1400</text><text font-family="'Liberation Sans', Arial, sans-serif" font-size="65" text-anchor="middle" transform="translate(1634.03,1691.5) scale(1,1.03)">1600</text><text font-family="'Liberation Sans', Arial, sans-serif" font-size="65" text-anchor="middle" transform="translate(1809.52,1691.5) scale(1,1.03)">1800</text><text font-family="'Liberation Sans', Arial, sans-serif" font-size="65" text-anchor="middle" transform="translate(1985.01,1691.5) scale(1,1.03)">2000</text><text font-family="'Liberation Sans', Arial, sans-serif" font-size="65" text-anchor="middle" transform="translate(2160.50,1691.5) scale(1,1.03)">2200</text><text font-family="'Liberation Sans', Arial, sans-serif" font-size="80" text-anchor="middle" transform="translate(83.1,785.95) rotate(-90) scale(1.0125,1)">RMS position error (m)</text><text font-family="'Liberation Sans', Arial, sans-serif" font-size="81.3" text-anchor="middle" transform="translate(1283.35,1817.4) scale(1,1.03)">Mean altitude (km)</text><rect x="395.5" y="53.5" width="925" height="409" fill="#fff" stroke="none"/><line x1="394.2" y1="53.45" x2="1321.5" y2="53.45" stroke="#000" stroke-width="2.5"/><line x1="1320.25" y1="52.2" x2="1320.25" y2="463.8" stroke="#000" stroke-width="2.5"/><line x1="394.2" y1="462.6" x2="1319" y2="462.6" stroke="#646464" stroke-width="2.6"/><line x1="395.6" y1="54.7" x2="395.6" y2="461.3" stroke="#efefef" stroke-width="2.8"/><line x1="405" y1="109.35" x2="588" y2="109.35" stroke="#ff0000" stroke-width="5.5"/><line x1="405" y1="208.85" x2="588" y2="208.85" stroke="#00ff00" stroke-width="3.3"/><line x1="405" y1="308.25" x2="588" y2="308.25" stroke="#0000ff" stroke-width="5.5"/><line x1="405" y1="408.4" x2="588" y2="408.4" stroke="#000000" stroke-width="2.8"/><text font-family="'Liberation Sans', Arial, sans-serif" font-size="80.9" transform="translate(609.7,136.7) scale(1,1.02)">Algorithm in [21]</text><text font-family="'Liberation Sans', Arial, sans-serif" font-size="80.9" transform="translate(609.7,236.5) scale(1,1.02)">Algorithm in [22]</text><text font-family="'Liberation Sans', Arial, sans-serif" font-size="80.9" transform="translate(609.7,335.7) scale(1,1.02)">Proposed algorithm</text><text font-family="'Liberation Sans', Arial, sans-serif" font-size="80.9" transform="translate(609.7,436.7) scale(1,1.02)">Analytical solution</text></svg>
</body></html>
